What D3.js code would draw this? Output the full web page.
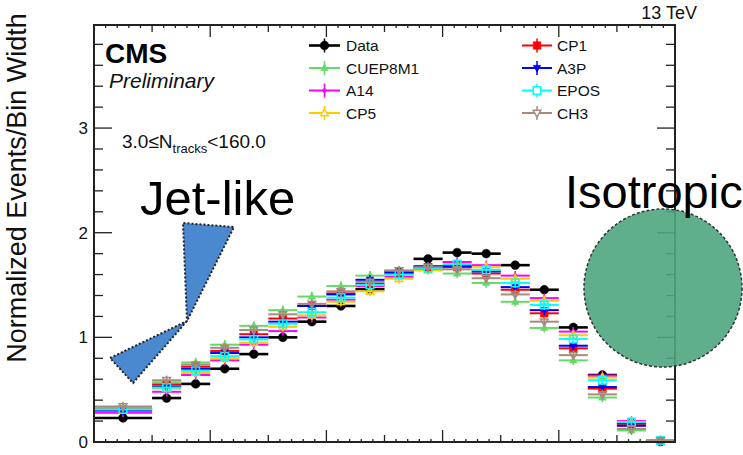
<!DOCTYPE html>
<html lang="en">
<head>
<meta charset="UTF-8">
<title>Event shape</title>
<style>
  body, html { margin: 0; padding: 0; background: #fff; }
  svg { display: block; font-family: "Liberation Sans", Arial, Helvetica, sans-serif; }
</style>
</head>
<body>
<div id="container"></div>
<script src="https://d3js.org/d3.v7.min.js"></script>
<script>
// bin edges (first bin is double width)
const binEdges = [0, 0.1, 0.15, 0.2, 0.25, 0.3, 0.35, 0.4, 0.45, 0.5, 0.55, 0.6, 0.65, 0.7, 0.75, 0.8, 0.85, 0.9, 0.95, 1.0]

const dataVals = [0.23, 0.42, 0.555, 0.70, 0.84, 1.00, 1.15, 1.30, 1.46, 1.63, 1.75, 1.81, 1.80, 1.69, 1.455, 1.095, 0.64, 0.18, 0.005]
const cuep8m1  = [0.33, 0.57, 0.76, 0.93, 1.11, 1.26, 1.39, 1.49, 1.59, 1.63, 1.66, 1.61, 1.52, 1.34, 1.09, 0.78, 0.425, 0.11, 0.012]
const a14      = [0.28, 0.48, 0.64, 0.78, 0.93, 1.06, 1.19, 1.36, 1.49, 1.58, 1.65, 1.72, 1.69, 1.59, 1.375, 1.055, 0.635, 0.20, 0.015]
const cp5      = [0.31, 0.51, 0.66, 0.80, 0.95, 1.10, 1.21, 1.34, 1.44, 1.56, 1.64, 1.69, 1.67, 1.56, 1.35, 1.02, 0.615, 0.19, 0.015]
const cp1      = [0.31, 0.55, 0.72, 0.87, 1.03, 1.18, 1.30, 1.42, 1.51, 1.61, 1.67, 1.67, 1.61, 1.455, 1.23, 0.895, 0.51, 0.16, 0.012]
const a3p      = [0.30, 0.53, 0.70, 0.85, 1.00, 1.15, 1.30, 1.41, 1.55, 1.62, 1.68, 1.68, 1.63, 1.48, 1.26, 0.92, 0.525, 0.155, 0.012]
const epos     = [0.31, 0.52, 0.68, 0.82, 0.98, 1.13, 1.24, 1.38, 1.50, 1.60, 1.66, 1.70, 1.645, 1.52, 1.31, 0.985, 0.59, 0.19, 0.015]
const ch3      = [0.34, 0.59, 0.74, 0.90, 1.07, 1.22, 1.32, 1.44, 1.53, 1.64, 1.67, 1.65, 1.565, 1.41, 1.15, 0.83, 0.455, 0.125, 0.01]

// half-length of vertical error bars
const dataErr = 0.012
const mcErr = 0.045

const yTickLabels = [0, 1, 2, 3]

// series: name, values, color, marker
const series = [
  { name: "Data",    values: dataVals, color: "#000000", marker: "circle",  fill: true,  err: dataErr, lw: 2.6 },
  { name: "CUEP8M1", values: cuep8m1,  color: "#66d966", marker: "triUp",   fill: true,  err: mcErr, lw: 2 },
  { name: "A14",     values: a14,      color: "#ff00ff", marker: "diamond", fill: true,  err: mcErr, lw: 2 },
  { name: "CP5",     values: cp5,      color: "#ffcc00", marker: "triUp",   fill: false, err: mcErr, lw: 2 },
  { name: "CP1",     values: cp1,      color: "#ff0000", marker: "square",  fill: true,  err: mcErr, lw: 2 },
  { name: "A3P",     values: a3p,      color: "#0000ff", marker: "triDown", fill: true,  err: mcErr, lw: 2 },
  { name: "EPOS",    values: epos,     color: "#00ffff", marker: "square",  fill: false, err: mcErr, lw: 2 },
  { name: "CH3",     values: ch3,      color: "#a68b7e", marker: "triDown", fill: false, err: mcErr, lw: 2 }
]

const W = 743, H = 455
const frame = { left: 94, right: 675, top: 25, bottom: 442 }

const svg = d3.select("#container").append("svg")
  .attr("width", W).attr("height", H)

const x = d3.scaleLinear().domain([0, 1]).range([frame.left, frame.right])
const y = d3.scaleLinear().domain([0, 3.985]).range([frame.bottom, frame.top])

// marker path helper
function markerPath(type, s) {
  if (type === "circle") return d3.symbol(d3.symbolCircle, s * s * 3.3)()
  if (type === "square") return `M${-s},${-s}H${s}V${s}H${-s}Z`
  if (type === "diamond") return `M0,${-s}L${s * 0.7},0L0,${s}L${-s * 0.7},0Z`
  if (type === "triUp") return `M0,${-s * 1.1}L${s},${s * 0.7}L${-s},${s * 0.7}Z`
  if (type === "triDown") return `M0,${s * 1.1}L${s},${-s * 0.7}L${-s},${-s * 0.7}Z`
}
function markerSize(d) {
  if (d.marker === "circle") return 4.3
  if (d.marker === "diamond") return 3
  return 3.8
}

// -------- AXES / TICKS ------------
const ticks = svg.append("g").attr("stroke", "#222").attr("stroke-width", 1.3)

function yTick(v, len) {
  ticks.append("line").attr("x1", frame.left).attr("x2", frame.left + len).attr("y1", y(v)).attr("y2", y(v))
  ticks.append("line").attr("x1", frame.right).attr("x2", frame.right - len).attr("y1", y(v)).attr("y2", y(v))
}
d3.range(0, 20).forEach(i => yTick(i * 0.2, i % 5 === 0 ? 18 : 9))

function xTick(v, len) {
  ticks.append("line").attr("x1", x(v)).attr("x2", x(v)).attr("y1", frame.bottom).attr("y2", frame.bottom - len)
  ticks.append("line").attr("x1", x(v)).attr("x2", x(v)).attr("y1", frame.top).attr("y2", frame.top + len)
}
d3.range(1, 50).forEach(i => {
  const len = i % 10 === 0 ? 12 : (i % 5 === 0 ? 7 : 3)
  xTick(i * 0.02, len)
})

// y tick labels
const leftAxis = d3.axisLeft(y).tickValues(yTickLabels).tickSize(0).tickPadding(6).tickFormat(d3.format("d"))
svg.append("g")
  .attr("transform", `translate(${frame.left},0)`)
  .call(leftAxis)
  .call(g => g.select(".domain").remove())
  .selectAll("text")
  .style("font-size", "17px")
  .style("font-family", "'Liberation Sans', Arial, sans-serif")
  .attr("fill", "#111")

// y label
svg.append("text")
  .attr("transform", "translate(26, 188) rotate(-90)")
  .attr("text-anchor", "middle")
  .style("font-size", "27px")
  .attr("fill", "#111")
  .text("Normalized Events/Bin Width")

// -------- DRAW SERIES ------------
series.forEach(s => {
  const g = svg.append("g")
  const pts = s.values.map((v, i) => ({ v, x0: binEdges[i], x1: binEdges[i + 1] }))
  // horizontal bin lines
  g.selectAll("line.h").data(pts).enter().append("line")
    .attr("x1", d => x(d.x0)).attr("x2", d => x(d.x1))
    .attr("y1", d => y(d.v)).attr("y2", d => y(d.v))
    .attr("stroke", s.color).attr("stroke-width", s.lw)
  // vertical error bars
  g.selectAll("line.v").data(pts).enter().append("line")
    .attr("x1", d => x((d.x0 + d.x1) / 2)).attr("x2", d => x((d.x0 + d.x1) / 2))
    .attr("y1", d => y(Math.max(0, d.v - s.err))).attr("y2", d => y(d.v + s.err))
    .attr("stroke", s.color).attr("stroke-width", 1.5)
  // markers
  g.selectAll("path").data(pts).enter().append("path")
    .attr("transform", d => `translate(${x((d.x0 + d.x1) / 2)},${y(d.v)})`)
    .attr("d", markerPath(s.marker, markerSize(s)))
    .attr("fill", s.fill ? s.color : "none")
    .attr("stroke", s.color)
    .attr("stroke-width", s.fill ? 0.5 : 1.5)
})

// frame
svg.append("rect")
  .attr("x", frame.left).attr("y", frame.top)
  .attr("width", frame.right - frame.left).attr("height", frame.bottom - frame.top)
  .attr("fill", "none").attr("stroke", "#222").attr("stroke-width", 2)

// -------- LEGEND ------------
const legCols = [{ lx0: 309, lx1: 340, tx: 346 }, { lx0: 522, lx1: 552, tx: 557 }]
const legRowY = [45.5, 68, 90.5, 113]
const legend = svg.append("g")
series.forEach((s, i) => {
  const col = legCols[i < 4 ? 0 : 1]
  const yy = legRowY[i % 4]
  const cx = (col.lx0 + col.lx1) / 2
  legend.append("line").attr("x1", col.lx0).attr("x2", col.lx1).attr("y1", yy).attr("y2", yy)
    .attr("stroke", s.color).attr("stroke-width", s.lw)
  legend.append("line").attr("x1", cx).attr("x2", cx).attr("y1", yy - 7).attr("y2", yy + 7)
    .attr("stroke", s.color).attr("stroke-width", 1.5)
  legend.append("path").attr("transform", `translate(${cx},${yy})`)
    .attr("d", markerPath(s.marker, markerSize(s)))
    .attr("fill", s.fill ? s.color : "#fff")
    .attr("stroke", s.color).attr("stroke-width", s.fill ? 0.5 : 1.5)
  legend.append("text").attr("x", col.tx).attr("y", yy + 5.5)
    .style("font-size", "15.5px").attr("fill", "#111").text(s.name)
})

// -------- TEXT ------------
svg.append("text").attr("x", 697).attr("y", 19).attr("text-anchor", "end")
  .style("font-size", "18px").attr("fill", "#111").text("13 TeV")
svg.append("text").attr("x", 105).attr("y", 63)
  .style("font-size", "28px").style("font-weight", "bold").attr("fill", "#000").text("CMS")
svg.append("text").attr("x", 109).attr("y", 88)
  .style("font-size", "21px").style("font-style", "italic").attr("fill", "#111").text("Preliminary")

const ntr = svg.append("text").attr("x", 122).attr("y", 148)
  .style("font-size", "19px").attr("fill", "#111")
ntr.append("tspan").text("3.0\u2264N")
ntr.append("tspan").attr("dy", 5).style("font-size", "13px").text("tracks")
ntr.append("tspan").attr("dy", -5).text("<160.0")

// -------- ANNOTATIONS ------------
svg.append("path")
  .attr("d", "M110,358 L187,321 L183,223 L234,227 L187,321 L133,383 Z")
  .attr("fill", "#4a88d0")
  .attr("stroke", "#222").attr("stroke-width", 2).attr("stroke-dasharray", "2,2")

svg.append("text").attr("x", 140).attr("y", 215)
  .style("font-size", "49px").attr("fill", "#000").text("Jet-like")

svg.append("circle").attr("cx", 663).attr("cy", 288).attr("r", 79)
  .attr("fill", "#4fa67f").attr("fill-opacity", 0.9)
  .attr("stroke", "#333").attr("stroke-width", 1.5).attr("stroke-dasharray", "3,2")

svg.append("text").attr("x", 565).attr("y", 208)
  .style("font-size", "47px").attr("fill", "#000").text("Isotropic")
</script>
</body>
</html>
